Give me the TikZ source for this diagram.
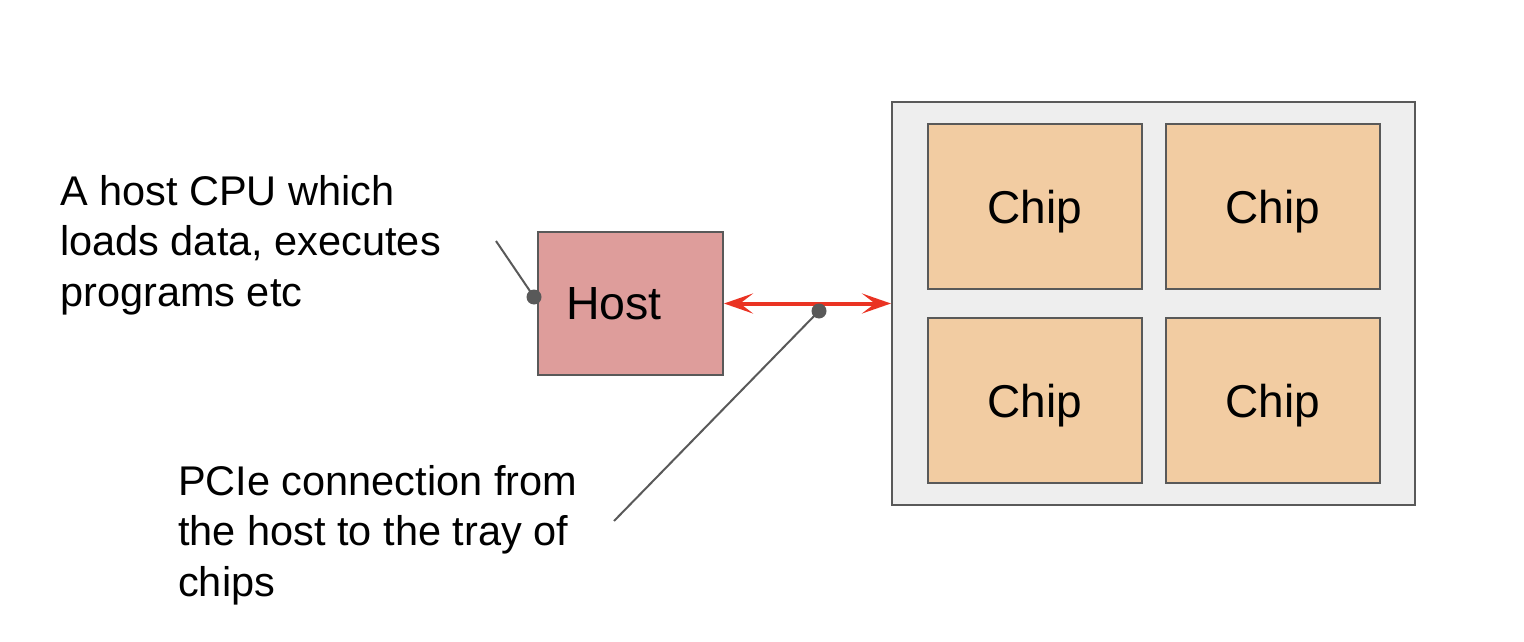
\documentclass[tikz,border=0pt]{standalone}
\usepackage{fontspec}
\setmainfont{Liberation Sans}
\usetikzlibrary{arrows.meta}
\definecolor{edgegray}{HTML}{595959}
\definecolor{trayfill}{HTML}{EEEEEE}
\definecolor{chipfill}{HTML}{F2CCA2}
\definecolor{hostfill}{HTML}{DE9D9B}
\definecolor{linkred}{HTML}{EA3323}
\tikzset{
  box/.style={draw=edgegray, line width=2pt, rectangle, inner sep=0pt},
  traybox/.style={box, fill=trayfill, minimum width=523pt, minimum height=403pt},
  chipbox/.style={box, fill=chipfill, minimum width=214pt, minimum height=165pt,
    font=\fontsize{46}{55}\selectfont, text depth=0pt},
  hostbox/.style={box, fill=hostfill, minimum width=185pt, minimum height=143pt,
    font=\fontsize{46.5}{55}\selectfont, text depth=0pt, text width=129pt, align=left},
  note/.style={font=\fontsize{41.5}{50.5}\selectfont, align=left, inner sep=0pt, anchor=base west},
  leader/.style={draw=edgegray, line width=2pt},
  pin/.style={circle, fill=edgegray, inner sep=0pt, minimum size=15pt},
  link/.style={draw=linkred, line width=4pt,
    {Stealth[length=29pt, width=20pt, inset=13pt]}-{Stealth[length=29pt, width=20pt, inset=13pt]}}
}
\begin{document}
\begin{tikzpicture}[x=1pt, y=-1pt]
\useasboundingbox (0,0) rectangle (1524,642);
% tray and chips
\node[traybox] (tray) at (1153.5,303.5) {};
\node[chipbox] (c1) at (1035,206.5) {Chip};
\node[chipbox] (c2) at (1273,206.5) {Chip};
\node[chipbox] (c3) at (1035,400.5) {Chip};
\node[chipbox] (c4) at (1273,400.5) {Chip};
% host
\node[hostbox] (host) at (630.5,303.5) {Host};
% PCIe link
\draw[link] (host.east) -- (tray.west);
% annotations (anchored at the baseline of the last line)
\node[note] (hostnote) at (60,306) {A host CPU which\\loads data, executes\\programs etc};
\node[note] (pcienote) at (178,596) {PCIe connection from\\the host to the tray of\\chips};
\coordinate (hostlead) at (496,241);
\coordinate (pcielead) at (614,521);
\node[pin] (hostpin) at (534,297) {};
\node[pin] (pciepin) at (819,311) {};
\draw[leader] (hostlead) -- (hostpin.center);
\draw[leader] (pcielead) -- (pciepin.center);
\end{tikzpicture}
\end{document}
